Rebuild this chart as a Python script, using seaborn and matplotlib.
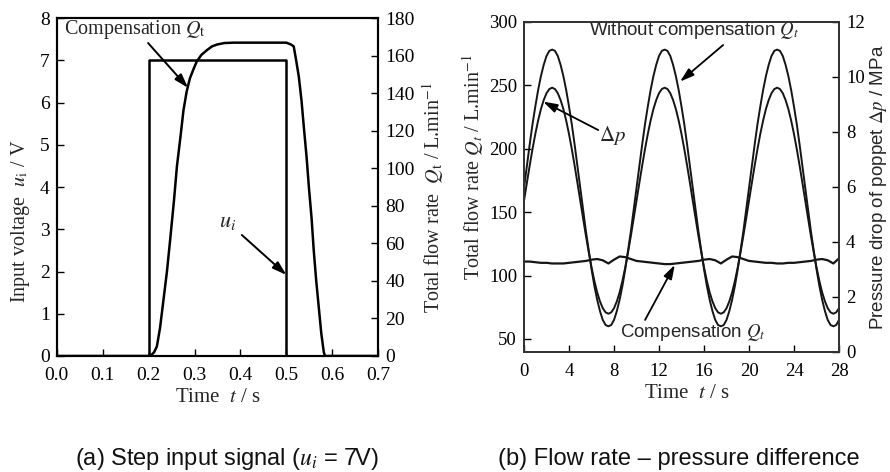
import numpy as np
import pandas as pd
import matplotlib
matplotlib.use("Agg")
import matplotlib.pyplot as plt
import seaborn as sns

# ---------------- data: panel (a) ----------------
t_step = [0.0, 0.2, 0.2, 0.5, 0.5, 0.7]
u_step = [0, 0, 7, 7, 0, 0]

t_qa = [0.0, 0.2, 0.206, 0.212, 0.218, 0.225, 0.2325, 0.24, 0.247, 0.255, 0.2617,
        0.27, 0.276, 0.283, 0.29, 0.298, 0.305, 0.315, 0.327, 0.338, 0.349,
        0.365, 0.385, 0.45, 0.5, 0.505, 0.51, 0.516, 0.521, 0.527, 0.533, 0.538,
        0.544, 0.549, 0.555, 0.5595, 0.565, 0.5705, 0.576, 0.5815, 0.584, 0.7]
q_a = [0, 0, 0.5, 2, 5, 15, 30, 45, 62, 82, 101,
       118, 131, 141, 148, 153, 157, 160.5, 163, 165, 166,
       166.8, 167, 167, 167, 166.5, 166, 165, 158, 149, 136, 122,
       106, 90, 73, 56.5, 40, 26, 12, 2, 0, 0]

# ---------------- data: panel (b) ----------------
t_b = np.arange(0, 28.001, 0.25)
q_without = [169, 186, 203, 219, 233, 246, 257, 266, 273, 277,
             278, 277, 273, 266, 257, 246, 233, 219, 203, 186,
             169, 152, 135, 120, 105, 92, 81, 72, 65, 61,
             60, 61, 65, 72, 81, 92, 105, 120, 135, 152,
             169, 186, 203, 219, 233, 246, 257, 266, 273, 277,
             278, 277, 273, 266, 257, 246, 233, 219, 203, 186,
             169, 152, 135, 120, 105, 92, 81, 72, 65, 61,
             60, 61, 65, 72, 81, 92, 105, 120, 135, 152,
             169, 186, 203, 219, 233, 246, 257, 266, 273, 277,
             278, 277, 273, 266, 257, 246, 233, 219, 203, 186,
             169, 152, 135, 120, 105, 92, 81, 72, 65, 61,
             60, 61, 65]
dp_mpa = [5.49, 6.13, 6.76, 7.36, 7.91, 8.40, 8.82, 9.15, 9.40, 9.55,
          9.60, 9.55, 9.40, 9.15, 8.82, 8.40, 7.91, 7.36, 6.76, 6.13,
          5.49, 4.85, 4.22, 3.62, 3.07, 2.58, 2.16, 1.83, 1.58, 1.43,
          1.38, 1.43, 1.58, 1.83, 2.16, 2.58, 3.07, 3.62, 4.22, 4.85,
          5.49, 6.13, 6.76, 7.36, 7.91, 8.40, 8.82, 9.15, 9.40, 9.55,
          9.60, 9.55, 9.40, 9.15, 8.82, 8.40, 7.91, 7.36, 6.76, 6.13,
          5.49, 4.85, 4.22, 3.62, 3.07, 2.58, 2.16, 1.83, 1.58, 1.43,
          1.38, 1.43, 1.58, 1.83, 2.16, 2.58, 3.07, 3.62, 4.22, 4.85,
          5.49, 6.13, 6.76, 7.36, 7.91, 8.40, 8.82, 9.15, 9.40, 9.55,
          9.60, 9.55, 9.40, 9.15, 8.82, 8.40, 7.91, 7.36, 6.76, 6.13,
          5.49, 4.85, 4.22, 3.62, 3.07, 2.58, 2.16, 1.83, 1.58, 1.43,
          1.38, 1.43, 1.58]
t_c = np.arange(0, 28.001, 0.5)
q_comp = [111, 111, 110.5, 110, 110, 109.5, 109.5, 109.5, 110, 110.5,
          111, 111.5, 112.5, 113, 112, 109.5, 112.5, 115, 114.5, 113,
          111.5, 111, 110.5, 110, 109.5, 109, 109, 109.5, 110, 110.5,
          111, 111.5, 112.5, 113, 112, 109.5, 112.5, 115, 114.5, 113,
          111.5, 111, 110.5, 110, 110, 109.5, 109.5, 110, 110, 110.5,
          111, 111.5, 112.5, 113, 112, 109.5, 113.5]

a_xticks = [0.0, 0.1, 0.2, 0.3, 0.4, 0.5, 0.6, 0.7]
b_xticks = [0, 4, 8, 12, 16, 20, 24, 28]

# ---------------- style ----------------
sns.set_theme(style="ticks")
SERIF = "Liberation Serif"
SANS = "Liberation Sans"
plt.rcParams["font.family"] = [SERIF, "DejaVu Serif"]
plt.rcParams["mathtext.fontset"] = "stix"

fig = plt.figure(figsize=(8.9, 4.72), dpi=100)
axA = fig.add_axes([0.0637, 0.2458, 0.3613, 0.7155])
axB = fig.add_axes([0.5888, 0.2549, 0.3539, 0.6992])


def style_axes(ax, lw, color, size):
    for s in ax.spines.values():
        s.set_linewidth(lw)
        s.set_color(color)
    ax.tick_params(direction="in", length=5, width=1.0, colors="black",
                   labelsize=size)
    ax.tick_params(axis="y", pad=5)
    ax.tick_params(axis="x", pad=8)
    for lab in ax.get_xticklabels() + ax.get_yticklabels():
        lab.set_fontfamily(SERIF)


# ---------------- panel (a) ----------------
df_u = pd.DataFrame({"t": t_step, "u": u_step})
sns.lineplot(data=df_u, x="t", y="u", ax=axA, color="black", lw=1.8,
             sort=False, estimator=None)
axA.set_xlim(0, 0.7)
axA.set_ylim(0, 8)
axA.set_xticks(a_xticks)
axA.set_xticklabels([f"{v:.1f}" for v in a_xticks])
axA.set_yticks(range(0, 9))
axA2 = axA.twinx()
df_qa = pd.DataFrame({"t": t_qa, "q": q_a})
sns.lineplot(data=df_qa, x="t", y="q", ax=axA2, color="black", lw=1.8,
             sort=False, estimator=None)
axA2.set_ylim(0, 180)
axA2.set_yticks(range(0, 181, 20))
for ax in (axA, axA2):
    style_axes(ax, 1.5, "black", 14)
axA.set_xlabel("Time  $t$ / s", fontsize=15)
axA.xaxis.set_label_coords(0.5, -0.136)
axA.xaxis.label.set_va("baseline")
axA.set_ylabel("Input voltage  $u_{\\mathrm{i}}$ / V", fontsize=14.5)
axA.yaxis.set_label_coords(-0.114, 0.40)
axA.yaxis.label.set_va("center")
axA2.set_ylabel("Total flow rate  $Q_{\\mathrm{t}}$ / L.min$^{-1}$", fontsize=14.5)
axA2.yaxis.set_label_coords(1.17, 0.47)
axA2.yaxis.label.set_va("center")

arrow = dict(arrowstyle="-|>,head_length=0.7,head_width=0.22", color="black",
             lw=1.4, shrinkA=0, shrinkB=0)
axA2.text(0.016, 173.8, "Compensation $Q_{\\mathrm{t}}$", fontsize=14.5,
          ha="left", va="center")
axA2.annotate("", xy=(0.286, 142.9), xytext=(0.199, 166.8), arrowprops=arrow)
axA2.text(0.373, 71.4, "$u_i$", fontsize=16, ha="center", va="center")
axA2.annotate("", xy=(0.5, 43.2), xytext=(0.403, 64.5), arrowprops=arrow)

# ---------------- panel (b) ----------------
df_b = pd.DataFrame({"t": t_b, "qw": q_without, "dp": dp_mpa})
df_c = pd.DataFrame({"t": t_c, "qc": q_comp})
sns.lineplot(data=df_b, x="t", y="qw", ax=axB, color="#151515", lw=1.4,
             estimator=None)
sns.lineplot(data=df_c, x="t", y="qc", ax=axB, color="#151515", lw=1.6,
             estimator=None)
axB.set_xlim(0, 28)
axB.set_ylim(40, 300)
axB.set_xticks(b_xticks)
axB.set_yticks([50, 100, 150, 200, 250, 300])
axB2 = axB.twinx()
sns.lineplot(data=df_b, x="t", y="dp", ax=axB2, color="#151515", lw=1.4,
             estimator=None)
axB2.set_ylim(0, 12)
axB2.set_yticks(range(0, 13, 2))
for ax in (axB, axB2):
    style_axes(ax, 1.3, "#333333", 13.5)
axB.set_xlabel("Time  $t$ / s", fontsize=15)
axB.xaxis.set_label_coords(0.516, -0.140)
axB.xaxis.label.set_va("baseline")
axB.set_ylabel("Total flow rate $Q_t$ / L.min$^{-1}$", fontsize=14.5)
axB.yaxis.set_label_coords(-0.162, 0.558)
axB.yaxis.label.set_va("center")
axB2.set_ylabel("Pressure drop of poppet $\\mathit{\\Delta p}$ / MPa",
                fontsize=13.5, fontfamily=SANS)
axB2.yaxis.set_label_coords(1.124, 0.497)
axB2.yaxis.label.set_va("center")

arrowB = dict(arrowstyle="-|>,head_length=0.7,head_width=0.22", color="black",
              lw=1.3, shrinkA=0, shrinkB=0)
axB.text(15.1, 292.7, "Without compensation $Q_t$", fontsize=13.5,
         fontfamily=SANS, ha="center", va="center")
axB.annotate("", xy=(13.87, 252.8), xytext=(17.7, 281.6), arrowprops=arrowB)
axB.text(7.9, 210.7, "$\\Delta p$", fontsize=15, ha="center", va="center")
axB.annotate("", xy=(1.7, 237), xytext=(6.6, 214.6), arrowprops=arrowB)
axB.text(15.0, 55.0, "Compensation $Q_t$", fontsize=13.5,
         fontfamily=SANS, ha="center", va="center")
axB.annotate("", xy=(13.4, 108.4), xytext=(10.76, 65), arrowprops=arrowB)

# ---------------- captions ----------------
fig.text(0.2545, 0.0148, "(a) Step input signal ($u_i$ = 7V)",
         fontfamily=SANS, fontsize=17, ha="center", va="baseline",
         color="#111111")
fig.text(0.763, 0.0148, "(b) Flow rate \u2013 pressure difference",
         fontfamily=SANS, fontsize=17, ha="center", va="baseline",
         color="#111111")

fig.savefig("out.png", dpi=100)
